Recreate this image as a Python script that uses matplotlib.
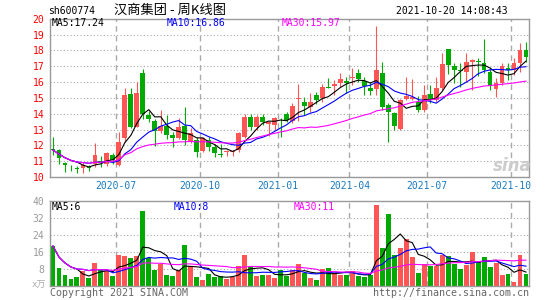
import numpy as np
import pandas as pd
import matplotlib
matplotlib.use('Agg')
import matplotlib.pyplot as plt

# 汉商集团 周K线 (每周一日期, 2020-04-13 起共80周)
first_week = '2020-04-13'
opens = [11.75, 11.70, 10.90, 10.60, 10.60, 10.55, 10.65, 10.82, 11.00, 10.82,
         11.39, 10.76, 12.45, 15.24, 13.18, 16.60, 13.92, 13.55, 12.88, 13.22,
         12.65, 12.48, 13.22, 12.25, 12.34, 11.66, 12.34, 11.87, 11.45, 11.55,
         11.55, 11.70, 12.55, 13.77, 13.18, 13.77, 13.35, 13.28, 13.62, 13.98,
         13.54, 14.95, 14.76, 14.44, 15.18, 14.97, 15.66, 15.75, 15.92, 16.08,
         16.23, 16.55, 16.08, 15.60, 15.56, 16.55, 14.55, 14.02, 13.01, 14.90,
         14.90, 14.76, 14.23, 15.24, 14.86, 15.60, 18.06, 17.01, 16.75, 16.65,
         17.24, 17.30, 17.22, 16.65, 15.54, 15.92, 16.86, 16.76, 17.22, 18.02]
highs = [12.50, 11.75, 10.95, 10.75, 10.70, 10.86, 10.75, 12.17, 11.30, 11.60,
         11.50, 12.86, 15.65, 15.60, 16.00, 16.82, 14.20, 13.65, 14.23, 13.90,
         12.86, 13.70, 14.44, 13.07, 12.55, 12.50, 12.55, 12.08, 12.08, 11.70,
         11.72, 12.86, 13.98, 13.98, 13.90, 13.98, 13.55, 13.80, 13.70, 14.10,
         14.65, 15.87, 15.07, 15.28, 15.35, 15.90, 16.23, 16.10, 16.55, 16.34,
         16.90, 16.82, 16.34, 16.02, 19.56, 17.24, 14.65, 14.12, 14.90, 16.34,
         16.17, 15.10, 15.81, 15.80, 16.30, 17.81, 18.06, 17.18, 17.18, 17.81,
         17.45, 17.50, 18.69, 16.97, 16.23, 17.20, 17.22, 17.50, 18.48, 18.55]
lows = [11.40, 10.80, 10.30, 10.35, 10.25, 10.27, 10.40, 10.65, 10.65, 10.72,
        10.85, 10.72, 12.20, 13.10, 13.15, 13.66, 13.45, 11.98, 12.76, 12.40,
        11.92, 12.40, 12.02, 12.15, 11.28, 11.60, 11.66, 11.24, 11.28, 11.35,
        11.32, 11.60, 12.45, 12.97, 12.97, 13.30, 12.60, 12.97, 12.55, 13.50,
        13.40, 13.54, 13.92, 14.13, 14.60, 14.75, 15.60, 15.18, 15.70, 15.28,
        15.80, 16.02, 15.18, 15.18, 15.18, 14.23, 12.23, 12.97, 12.97, 14.86,
        14.86, 14.13, 14.13, 14.70, 14.75, 15.50, 16.50, 15.92, 15.66, 16.02,
        15.50, 16.40, 16.55, 15.50, 15.03, 15.80, 16.15, 16.45, 16.65, 17.28]
closes = [11.70, 11.20, 10.75, 10.55, 10.52, 10.74, 10.60, 11.39, 10.90, 11.50,
          11.05, 12.23, 15.18, 13.18, 15.28, 13.96, 13.68, 12.88, 13.22, 12.65,
          12.45, 13.18, 12.35, 12.78, 11.60, 12.44, 11.92, 11.50, 11.42, 11.62,
          11.62, 12.76, 13.77, 13.18, 13.81, 13.45, 13.45, 13.70, 13.58, 13.60,
          14.50, 15.00, 14.50, 14.72, 14.86, 15.70, 15.62, 15.90, 16.19, 15.96,
          16.34, 16.19, 15.77, 15.43, 16.76, 14.44, 14.08, 13.20, 14.86, 15.12,
          15.05, 14.23, 15.18, 14.86, 15.60, 17.14, 17.07, 16.76, 16.70, 17.26,
          17.39, 17.25, 16.75, 15.75, 15.92, 17.01, 16.76, 17.22, 18.02, 17.60]
volumes = [18.7, 8.3, 5.2, 3.1, 4.1, 6.9, 3.6, 10.7, 7.4, 6.9,
           4.6, 14.5, 14.0, 13.1, 14.0, 35.3, 13.1, 7.4, 10.2, 5.0,
           4.6, 7.4, 19.2, 9.3, 4.1, 2.7, 5.5, 4.1, 4.6, 3.1,
           4.1, 9.3, 14.5, 8.8, 4.6, 5.0, 5.0, 3.6, 7.4, 4.7,
           7.4, 10.2, 6.0, 3.6, 2.7, 7.9, 8.3, 6.0, 5.0, 5.0,
           6.9, 4.6, 4.1, 5.0, 38.1, 17.8, 33.9, 14.5, 17.8, 22.0,
           13.6, 6.0, 10.2, 9.3, 9.3, 14.5, 14.0, 10.2, 7.9, 9.8,
           15.9, 11.2, 13.6, 8.8, 10.7, 5.0, 5.5, 1.7, 14.5, 5.5]

tick_weeks = ['2020-06-29', '2020-10-05', '2021-01-04', '2021-03-29', '2021-06-28', '2021-10-04']
tick_labels = ['2020-07', '2020-10', '2021-01', '2021-04', '2021-07', '2021-10']
price_ticks = [10, 11, 12, 13, 14, 15, 16, 17, 18, 19, 20]
vol_ticks = [8, 16, 24, 32, 40]

RED = '#ff5555'
GREEN = '#00aa00'
GRID = '#aaaaaa'
FRAME = '#999999'
MONO = 'DejaVu Sans Mono'
CJK = ['Noto Sans CJK SC', 'DejaVu Sans']

df = pd.DataFrame({'open': opens, 'high': highs, 'low': lows, 'close': closes, 'vol': volumes},
                  index=pd.date_range(first_week, periods=len(opens), freq='W-MON'))
x = np.arange(len(df))
up = df['close'] >= df['open']
colors = np.where(up, RED, GREEN)
for n in (5, 10, 30):
    df[f'ma{n}'] = df['close'].rolling(n, min_periods=1).mean()
    df[f'vma{n}'] = df['vol'].rolling(n, min_periods=1).mean()
tick_pos = [df.index.get_loc(pd.Timestamp(d)) - 0.5 for d in tick_weeks]

W, H = 545, 300
fig = plt.figure(figsize=(W / 100, H / 100), dpi=100)
ax = fig.add_axes([50 / W, 123 / H, 479 / W, 158.3 / H])
axv = fig.add_axes([50 / W, 14.3 / H, 479 / W, 84.7 / H])


def style(a, ticks, tick_color):
    a.set_xlim(-0.5, len(df) - 0.5)
    for s in a.spines.values():
        s.set_color(FRAME)
        s.set_linewidth(1.0)
    a.set_xticks([])
    a.set_yticks(ticks)
    a.set_yticklabels([str(t) for t in ticks], family=MONO, fontsize=7, color=tick_color)
    a.tick_params(axis='y', length=0, pad=4)
    for t in ticks[:-1]:
        a.axhline(t, color=GRID, lw=0.8, ls=(0, (1, 2)), zorder=0)
    for p in tick_pos:
        a.axvline(p, color=GRID, lw=1.0, ls=(0, (4, 3)), zorder=0)


# K线
ax.set_ylim(10, 20)
style(ax, price_ticks, '#ff0000')
ax.vlines(x, df['low'], df['high'], colors=colors, lw=0.8, zorder=2)
body = (df['close'] - df['open']).abs().clip(lower=0.04)
ax.bar(x, body, bottom=df[['open', 'close']].min(axis=1), width=0.8, color=colors, lw=0, zorder=3)
ax.plot(x, df['ma5'], color='black', lw=0.8, zorder=4)
ax.plot(x, df['ma10'], color='#0000ff', lw=0.8, zorder=4)
ax.plot(x, df['ma30'], color='#ff00ff', lw=0.8, zorder=4)

# 成交量
axv.set_ylim(0, 40)
style(axv, vol_ticks, '#999999')
axv.bar(x, df['vol'], width=0.82, color=colors, lw=0, zorder=2)
axv.plot(x, df['vma5'], color='black', lw=0.8, zorder=4)
axv.plot(x, df['vma10'], color='#0000ff', lw=0.8, zorder=4)
axv.plot(x, df['vma30'], color='#ff00ff', lw=0.8, zorder=4)

for p, lab in zip(tick_pos, tick_labels):
    ax.text(p, -0.057, lab, transform=ax.get_xaxis_transform(), ha='center', va='center',
            family=MONO, fontsize=7, color='#1a7abf')


def ftext(px, py, s, **kw):
    fig.text(px / W, 1 - py / H, s, va='center', **kw)


ftext(48, 10.5, 'sh600774', family=MONO, fontsize=7)
ftext(114, 10.5, '汉商集团 - 周K线图', family=CJK, fontsize=9.5)
ftext(508, 11, '2021-10-20 14:08:43', family=MONO, fontsize=7, ha='right')
ftext(52, 23.5, 'MA5:17.24', family=MONO, fontsize=7, color='black')
ftext(167, 23.5, 'MA10:16.86', family=MONO, fontsize=7, color='#0000ff')
ftext(282, 23.5, 'MA30:15.97', family=MONO, fontsize=7, color='#ff00ff')
ftext(52, 207, 'MA5:6', family=MONO, fontsize=7, color='black')
ftext(174, 207, 'MA10:8', family=MONO, fontsize=7, color='#0000ff')
ftext(294, 207, 'MA30:11', family=MONO, fontsize=7, color='#ff00ff')
ftext(46, 285, 'x万', family=[MONO, 'Noto Sans CJK SC'], fontsize=6.5, color='#aaaaaa', ha='right')
ftext(50, 293.5, 'Copyright 2021 SINA.COM', family=MONO, fontsize=7.2, color='#666666')
ftext(529, 293.5, 'http://finance.sina.com.cn', family=MONO, fontsize=7.2, color='#666666', ha='right')
ftext(512, 166, 'sina', fontsize=12, style='italic', weight='bold', color='#cccccc', ha='center')

fig.savefig('out.png', dpi=100)
